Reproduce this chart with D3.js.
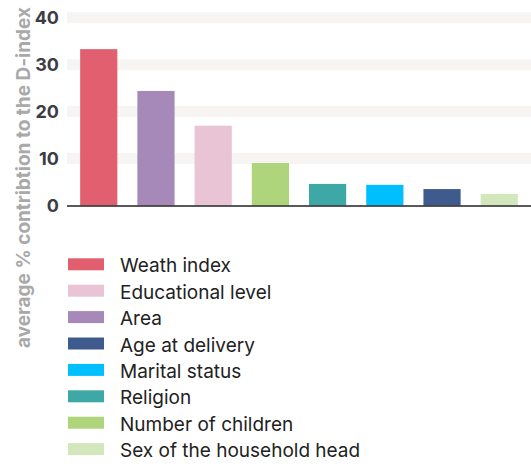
<!DOCTYPE html>
<html>
<head>
<meta charset="utf-8">
<script src="https://cdn.jsdelivr.net/npm/d3@7/dist/d3.min.js"></script>
<style>
  html, body { margin: 0; padding: 0; background: #fff; }
  svg { display: block; }
</style>
</head>
<body>
<svg id="chart" width="531" height="466"></svg>
<script>
// Factors, in the order the bars are drawn
const categories = ["Weath index", "Area", "Educational level", "Number of children",
                    "Religion", "Marital status", "Age at delivery", "Sex of the household head"];
// Average % contribution to the D-index
const values = [33.3, 24.4, 17.0, 9.05, 4.6, 4.4, 3.5, 2.45];
const colors = ["#e15f6e", "#a689b8", "#e9c4d5", "#aed57c", "#3da8a5", "#00bfff", "#3f5a8c", "#d2e7bb"];
// Legend order
const legendOrder = ["Weath index", "Educational level", "Area", "Age at delivery",
                     "Marital status", "Religion", "Number of children", "Sex of the household head"];
const yTicks = [0, 10, 20, 30, 40];
const yTitle = "average % contribtion to the D-index";

const svg = d3.select("#chart");
const color = d3.scaleOrdinal().domain(categories).range(colors);

const x = d3.scaleBand().domain(categories).range([67, 531])
  .paddingInner(0.35).paddingOuter(0.23);
const y = d3.scaleLinear().domain([0, 40]).range([205.5, 17.7]);

// Grid bands
svg.append("g").selectAll("line")
  .data(yTicks.filter(d => d > 0))
  .join("line")
  .attr("x1", 67).attr("x2", 531)
  .attr("y1", d => y(d)).attr("y2", d => y(d))
  .attr("stroke", "#f6f5f3").attr("stroke-width", 11);

// Bars
svg.append("g").selectAll("rect")
  .data(categories)
  .join("rect")
  .attr("x", d => x(d))
  .attr("width", x.bandwidth())
  .attr("y", (d, i) => y(values[i]))
  .attr("height", (d, i) => y(0) - y(values[i]))
  .attr("fill", d => color(d));

// Baseline
svg.append("line")
  .attr("x1", 67).attr("x2", 531)
  .attr("y1", y(0) + 0.5).attr("y2", y(0) + 0.5)
  .attr("stroke", "#222").attr("stroke-width", 1.5);

// Y axis labels
const yAxis = d3.axisLeft(y).tickValues(yTicks).tickSize(0).tickPadding(0);
const gy = svg.append("g").attr("transform", "translate(59,0)").call(yAxis);
gy.select(".domain").remove();
gy.selectAll("text")
  .attr("font-family", "Inter, 'DejaVu Sans', sans-serif")
  .attr("font-weight", 700)
  .attr("font-size", 18)
  .attr("fill", "#3c3c44");

// Y axis title
svg.append("text")
  .attr("transform", "translate(30,177.5) rotate(-90)")
  .attr("text-anchor", "middle")
  .attr("font-family", "Inter, sans-serif")
  .attr("font-weight", 700)
  .attr("font-size", 19)
  .attr("fill", "#a9a9a9")
  .text(yTitle);

// Legend
const legend = svg.append("g").selectAll("g")
  .data(legendOrder)
  .join("g")
  .attr("transform", (d, i) => `translate(68,${258.3 + i * 26.4})`);
legend.append("rect")
  .attr("width", 36).attr("height", 12)
  .attr("fill", d => color(d));
legend.append("text")
  .attr("x", 52).attr("y", 14)
  .attr("font-family", "Inter, sans-serif")
  .attr("font-size", 19)
  .attr("fill", "#222")
  .text(d => d);
</script>
</body>
</html>
